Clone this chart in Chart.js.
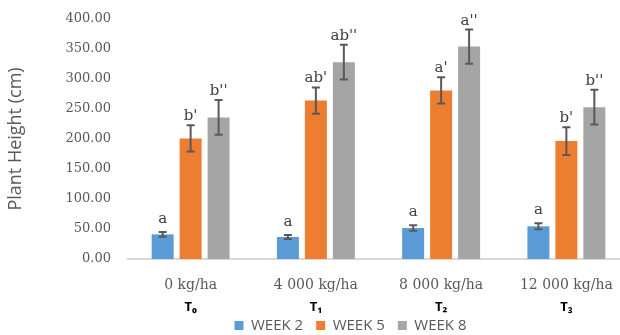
<!DOCTYPE html>
<html>
<head>
<meta charset="utf-8">
<script src="https://cdn.jsdelivr.net/npm/chart.js@4"></script>
<style>
  html, body { margin: 0; padding: 0; background: #fff; overflow: hidden; }
  #wrap { width: 640px; height: 355px; position: relative; }
</style>
</head>
<body>
<div id="wrap"><canvas id="c"></canvas></div>
<script>
// Fertilizer rates and treatment codes
const rates = ['0 kg/ha', '4 000 kg/ha', '8 000 kg/ha', '12 000 kg/ha'];
const treatments = ['T\u2080', 'T\u2081', 'T\u2082', 'T\u2083'];

// Mean plant height (cm) per sampling week
const week2 = [41, 36.7, 51.7, 54.5];
const week5 = [201, 264, 281, 196.5];
const week8 = [236, 328, 354, 253];

// Standard errors
const err2 = [4, 3.5, 4.5, 5];
const err5 = [22, 22, 22, 23];
const err8 = [29, 29, 28.5, 29];

// Significance letters
const sig2 = ['a', 'a', 'a', 'a'];
const sig5 = ["b'", "ab'", "a'", "b'"];
const sig8 = ["b''", "ab''", "a''", "b''"];

const yTicks = [0, 50, 100, 150, 200, 250, 300, 350, 400];

const errors = [err2, err5, err8];
const letters = [sig2, sig5, sig8];
const labelGap = [9, 5, 5];

// Error bars with significance letters above them
const errorBars = {
  id: 'errorBars',
  afterDatasetsDraw(chart) {
    const ctx = chart.ctx;
    const y = chart.scales.y;
    ctx.save();
    chart.data.datasets.forEach((ds, i) => {
      const meta = chart.getDatasetMeta(i);
      meta.data.forEach((bar, j) => {
        const v = ds.data[j];
        const e = errors[i][j];
        const top = y.getPixelForValue(v + e);
        const bot = y.getPixelForValue(v - e);
        const x = bar.x;
        ctx.strokeStyle = '#595959';
        ctx.lineWidth = 2;
        ctx.beginPath();
        ctx.moveTo(x, top); ctx.lineTo(x, bot);
        ctx.moveTo(x - 4, top); ctx.lineTo(x + 4, top);
        ctx.moveTo(x - 4, bot); ctx.lineTo(x + 4, bot);
        ctx.stroke();
        ctx.fillStyle = '#404040';
        ctx.font = '15px "DejaVu Serif"';
        ctx.textAlign = 'center';
        ctx.textBaseline = 'alphabetic';
        ctx.fillText(letters[i][j], x, top - labelGap[i]);
      });
    });
    ctx.restore();
  }
};

// Place the legend row slightly right of centre and tight under the axis labels
const legendShift = {
  id: 'legendShift',
  afterLayout(chart) {
    const lg = chart.legend;
    lg.left += 36; lg.right += 36;
    lg.top -= 12; lg.bottom -= 12;
  }
};

new Chart(document.getElementById('c'), {
  type: 'bar',
  data: {
    labels: rates,
    datasets: [
      { label: 'WEEK 2', data: week2, backgroundColor: '#5B9BD5' },
      { label: 'WEEK 5', data: week5, backgroundColor: '#ED7D31' },
      { label: 'WEEK 8', data: week8, backgroundColor: '#A5A5A5' }
    ]
  },
  options: {
    responsive: true,
    maintainAspectRatio: false,
    animation: false,
    layout: { padding: { top: 19, right: 11, left: 0, bottom: 0 } },
    datasets: { bar: { categoryPercentage: 0.67, barPercentage: 0.786 } },
    plugins: {
      legend: {
        position: 'bottom',
        labels: {
          boxWidth: 9, boxHeight: 9, padding: 13,
          color: '#595959',
          font: { family: '"Open Sans"', size: 15 }
        }
      },
      tooltip: { enabled: false }
    },
    scales: {
      x: {
        offset: true,
        grid: { display: false, drawTicks: false },
        border: { display: true, color: '#d9d9d9', width: 2 },
        ticks: {
          color: '#595959', padding: 18, maxRotation: 0, autoSkip: false,
          font: { family: '"DejaVu Serif"', size: 14 }
        },
        afterFit(s) { s.height = 36; }
      },
      x2: {
        type: 'category',
        labels: treatments,
        position: 'bottom',
        offset: true,
        grid: { display: false, drawTicks: false },
        border: { display: false },
        ticks: {
          color: '#000', padding: 4, maxRotation: 0, autoSkip: false,
          font: { family: '"Open Sans"', size: 13, weight: 'bold' }
        },
        afterFit(s) { s.height = 22; }
      },
      y: {
        min: 0, max: 400,
        afterBuildTicks(s) { s.ticks = yTicks.map(v => ({ value: v })); },
        grid: { display: false, drawTicks: false },
        border: { display: false },
        ticks: {
          color: '#595959', padding: 17,
          font: { family: '"DejaVu Serif"', size: 13 },
          callback: v => Number(v).toFixed(2)
        },
        title: {
          display: true, text: 'Plant Height (cm)', color: '#595959',
          font: { family: '"Open Sans"', size: 18 },
          padding: { top: 5, bottom: 0 }
        },
        afterFit(s) {
          s.width = 128;
          // the label gap should not push the plot area down
          s.paddingTop = 0;
          s.paddingBottom = 0;
        }
      }
    }
  },
  plugins: [errorBars, legendShift]
});
</script>
</body>
</html>
